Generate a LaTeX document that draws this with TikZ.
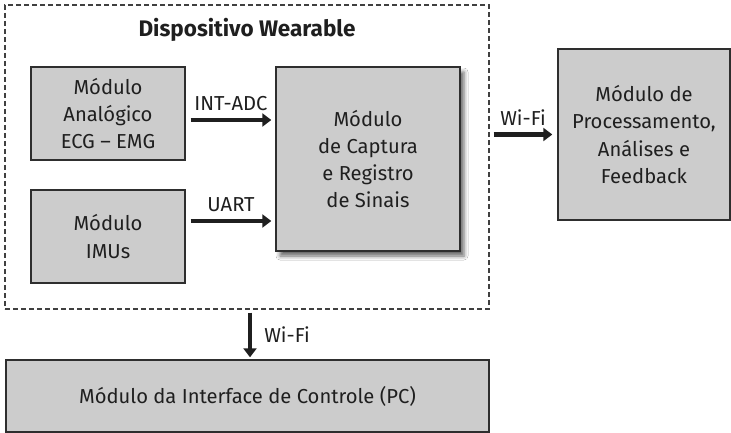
\documentclass[tikz,border=0pt]{standalone}
\usepackage{fontspec}
\setmainfont{Fira Sans}
\usetikzlibrary{arrows.meta,shadows.blur,calc}
\definecolor{boxfill}{HTML}{CCCCCC}
\definecolor{boxline}{HTML}{2E2E2E}
\definecolor{dashline}{HTML}{404040}
\begin{document}
\begin{tikzpicture}[x=1pt,y=-1pt,
  every node/.style={font=\fontsize{20.2}{27.2}\selectfont, text=black!88},
  modbox/.style={draw=boxline, line width=1.4pt, fill=boxfill, align=center, inner sep=0pt},
  devbox/.style={draw=dashline, line width=1.4pt, dash pattern=on 5pt off 3pt, inner sep=0pt},
  arr/.style={draw=black!88, line width=4.5pt, -{Triangle[length=9pt,width=13pt]}},
  lbl/.style={anchor=base, inner sep=0pt},
]
\useasboundingbox[fill=white] (0,0) rectangle (731,433);
\node[devbox, minimum width=484pt, minimum height=304pt] (dev) at (247,157) {};
\node[font=\fontsize{22.5}{26}\selectfont\bfseries] (title) at (247,30) {Dispositivo Wearable};
\node[modbox, minimum width=154pt, minimum height=93pt] (ana) at (108,113.5) {Módulo\\Analógico\\ECG – EMG};
\node[modbox, minimum width=154pt, minimum height=93pt] (imu) at (108,236.5) {Módulo\\IMUs};
\node[modbox, minimum width=184pt, minimum height=184pt,
  blur shadow={shadow xshift=4pt, shadow yshift=-5pt, shadow blur radius=4pt, shadow opacity=60}] (cap) at (368,159) {Módulo\\de Captura\\e Registro\\de Sinais};
\node[modbox, minimum width=172pt, minimum height=171pt] (proc) at (644,134.5) {Módulo de\\Processamento,\\Análises e\\Feedback};
\node[modbox, minimum width=483pt, minimum height=72pt] (pc) at (247.5,396) {Módulo da Interface de Controle (PC)};

\draw[arr] ($(ana.east)+(5,6.5)$) -- ($(cap.west |- ana.east)+(-4,6.5)$)
  node[lbl, midway, yshift=9pt] {INT-ADC};
\draw[arr] ($(imu.east)+(5,-15.5)$) -- ($(cap.west |- imu.east)+(-4,-15.5)$)
  node[lbl, midway, yshift=10pt] {UART};
\draw[arr] ($(dev.east |- proc.west)+(4,0)$) -- ($(proc.west)+(-5,0)$)
  node[lbl, midway, yshift=8.5pt] {Wi-Fi};
\draw[arr] ($(dev.south -| pc.north)+(2.5,3)$) -- ($(pc.north)+(2.5,-2)$)
  node[anchor=west, inner sep=0pt, midway, xshift=12pt] {Wi-Fi};
\end{tikzpicture}
\end{document}
